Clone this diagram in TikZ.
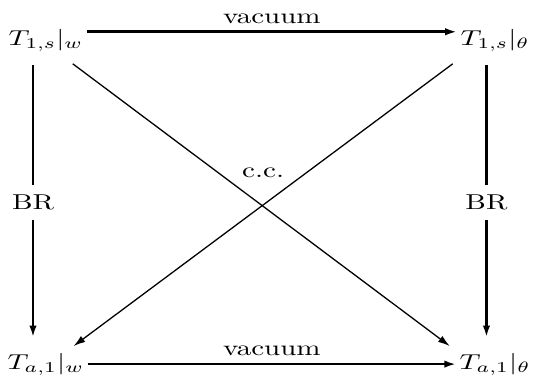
\documentclass[tikz,border=0pt]{standalone}
\usepackage{tikz}
\usetikzlibrary{arrows.meta,positioning,calc}
\tikzset{
  term/.style={xscale=1.35,transform shape,inner xsep=1pt,inner ysep=3pt},
  lbl/.style={xscale=1.35,transform shape},
  bigarrow/.style={-{Latex[length=5.5pt,width=3.4pt]},line width=1.2pt},
  thinarrow/.style={-{Latex[length=5.5pt,width=3.4pt]},line width=0.6pt}
}
\begin{document}
\begin{tikzpicture}
\useasboundingbox (0,0) rectangle (8.71,6.23);
\node[term] (t1w) at (0.75,5.57) {$T_{1,s}|_w$};
\node[term] (t1th) at (8.09,5.57) {$T_{1,s}|_\theta$};
\node[term] (taw) at (0.75,0.28) {$T_{a,1}|_w$};
\node[term] (tath) at (8.09,0.28) {$T_{a,1}|_\theta$};
\node[lbl] (cc) at (4.30,3.41) {c.c.};

\draw[bigarrow] ([yshift=4pt]t1w.east) -- node[lbl,above,midway]{vacuum} ([yshift=4pt]t1th.west);
\draw[bigarrow] (taw.east) -- node[lbl,above,midway]{vacuum} (tath.west);
\draw[bigarrow,shorten <=3pt,shorten >=4pt] ([xshift=-6pt]t1w.south) -- node[lbl,fill=white,inner sep=4.5pt,midway]{BR} ([xshift=-6pt]taw.north);
\draw[bigarrow,shorten <=3pt,shorten >=4pt] ([xshift=-4pt]t1th.south) -- node[lbl,fill=white,inner sep=4.5pt,midway]{BR} ([xshift=-4pt]tath.north);
\draw[thinarrow] ([xshift=-6.5pt,yshift=-2.5pt]t1w.south east) -- ([xshift=-3pt]tath.north west);
\draw[thinarrow] ([xshift=-2pt,yshift=-2.5pt]t1th.south west) -- ([xshift=-6.5pt]taw.north east);
\end{tikzpicture}
\end{document}
